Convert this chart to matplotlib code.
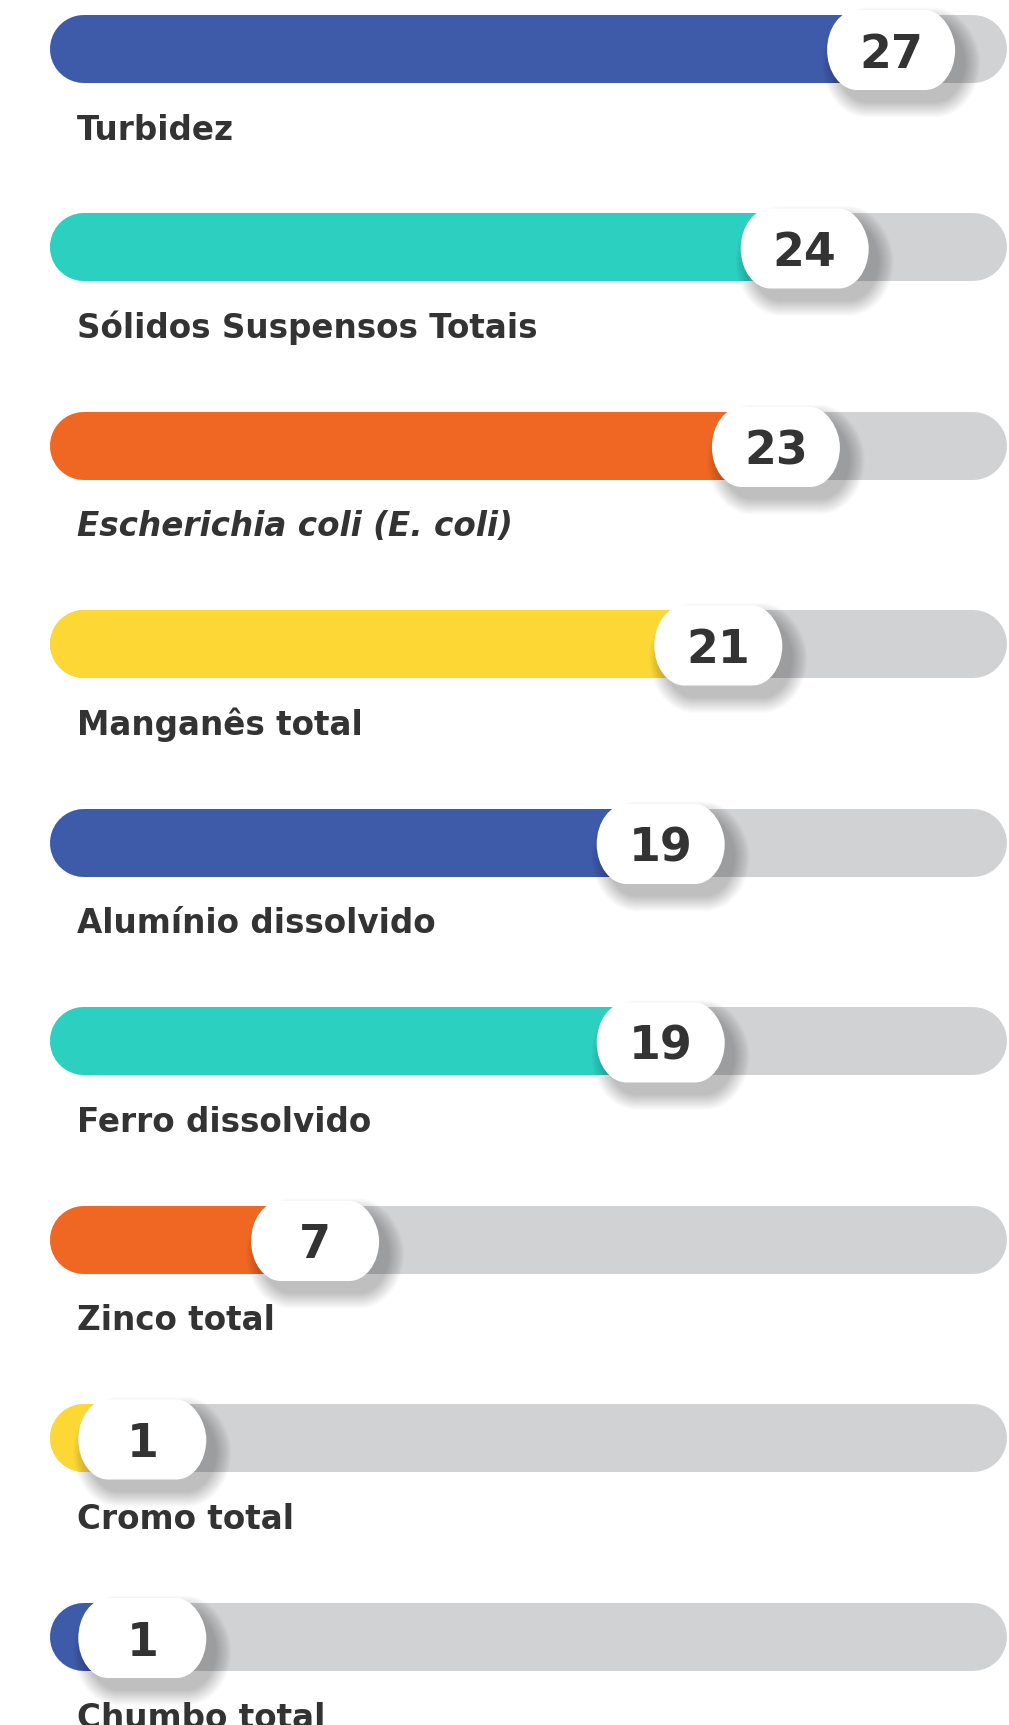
import matplotlib
matplotlib.use("Agg")
import matplotlib.pyplot as plt
from matplotlib.path import Path
from matplotlib.patches import PathPatch

# ---- data ----
categories = ["Turbidez", "Sólidos Suspensos Totais", "Escherichia coli (E. coli)",
              "Manganês total", "Alumínio dissolvido", "Ferro dissolvido",
              "Zinco total", "Cromo total", "Chumbo total"]
values = [27, 24, 23, 21, 19, 19, 7, 1, 1]
italic = [False, False, True, False, False, False, False, False, False]
colors = ["#3E5BA9", "#2BD0C0", "#F06723", "#FDD835", "#3E5BA9",
          "#2BD0C0", "#F06723", "#FDD835", "#3E5BA9"]

# ---- layout (pixel based) ----
W, H = 1009, 1725
XS = 28.8      # px per value unit
X0 = 113.5     # px where value 0 sits
ROW = 198.5    # px between rows
Y0 = 48.5      # px centre of first row

fig = plt.figure(figsize=(W / 100, H / 100), dpi=100)
ax = fig.add_axes([0, 0, 1, 1])
ax.set_xlim(-X0 / XS, (W - X0) / XS)
ax.set_ylim((H - Y0) / ROW, -Y0 / ROW)
ax.axis("off")

def px_x(p):
    return p / XS

def px_y(p):
    return p / ROW

K = 0.5523

def pill(xc, yc, w_px, h_px, rx_px, **kw):
    hw, hh = px_x(w_px / 2), px_y(h_px / 2)
    rx, ry = px_x(rx_px), hh
    xl, xr = xc - hw, xc + hw
    verts = [
        (xl + rx, yc - hh), (xr - rx, yc - hh),
        (xr - rx + K * rx, yc - hh), (xr, yc - hh + K * ry), (xr, yc),
        (xr, yc + K * ry), (xr - rx + K * rx, yc + hh), (xr - rx, yc + hh),
        (xl + rx, yc + hh),
        (xl + rx - K * rx, yc + hh), (xl, yc + K * ry), (xl, yc),
        (xl, yc - K * ry), (xl + rx - K * rx, yc - hh), (xl + rx, yc - hh),
        (xl + rx, yc - hh),
    ]
    codes = ([Path.MOVETO, Path.LINETO] + [Path.CURVE4] * 6 + [Path.LINETO]
             + [Path.CURVE4] * 6 + [Path.CLOSEPOLY])
    p = PathPatch(Path(verts, codes), linewidth=0, **kw)
    ax.add_patch(p)
    return p

bar_h = 68
lw_pt = bar_h * 72 / 100
track_l = px_x(50 + bar_h / 2 - X0)
track_r = px_x(1007 - bar_h / 2 - X0)
pill_w, pill_h, pill_rx = 128, 80, 30

for i, (cat, v, col, it) in enumerate(zip(categories, values, colors, italic)):
    y = i
    # background track
    ax.plot([track_l, track_r], [y, y], color="#D1D2D4", lw=lw_pt,
            solid_capstyle="round", zorder=1)
    # coloured bar
    ax.plot([track_l, v], [y, y], color=col, lw=lw_pt,
            solid_capstyle="round", zorder=2)
    # soft shadow of the pill
    sx = v + px_x(10)
    sy = y + px_y(14)
    for k in range(16):
        e = 2.0 * k
        pill(sx, sy, pill_w + e, pill_h + e, pill_rx + e / 2,
             facecolor="black", alpha=0.015, zorder=3)
    # pill
    pill(v, y + px_y(1.5), pill_w, pill_h, pill_rx, facecolor="white", zorder=4)
    ax.text(v, y + px_y(19), str(v), ha="center", va="baseline",
            fontsize=33, fontweight="bold", color="#333333",
            family="DejaVu Sans", zorder=5)
    # label
    ax.text(px_x(77 - X0), y + px_y(91), cat, ha="left", va="baseline",
            fontsize=23.5, fontweight="bold", color="#333333",
            style="italic" if it else "normal", family="DejaVu Sans", zorder=5)

fig.savefig("out.png", dpi=100, facecolor="white")
